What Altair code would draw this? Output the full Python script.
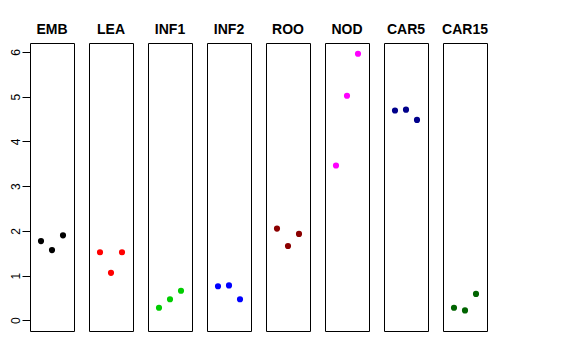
import altair as alt
import pandas as pd

groups = ["EMB", "LEA", "INF1", "INF2", "ROO", "NOD", "CAR5", "CAR15"]
colors = ["#000000", "#FF0000", "#00CD00", "#0000FF", "#8B0000", "#FF00FF", "#00008B", "#006400"]
positions = [1, 2, 3]
values = {
    "EMB": [1.77, 1.57, 1.90],
    "LEA": [1.52, 1.06, 1.52],
    "INF1": [0.28, 0.47, 0.66],
    "INF2": [0.76, 0.78, 0.47],
    "ROO": [2.05, 1.66, 1.93],
    "NOD": [3.46, 5.02, 5.96],
    "CAR5": [4.69, 4.71, 4.48],
    "CAR15": [0.28, 0.22, 0.59],
}
y_ticks = [0, 1, 2, 3, 4, 5, 6]

FONT = "Liberation Sans"
panels = []
for i, (g, c) in enumerate(zip(groups, colors)):
    df = pd.DataFrame({"x": positions, "y": values[g]})
    if i == 0:
        yaxis = alt.Axis(values=y_ticks, title=None, grid=False, domain=False,
                         tickSize=8, tickColor="#000000", labelAngle=270,
                         labelAlign="center", labelBaseline="bottom",
                         labelPadding=0, labelFontSize=12, labelFont=FONT,
                         labelColor="#000000")
    else:
        yaxis = None
    ch = alt.Chart(df).mark_circle(size=38, opacity=1, color=c).encode(
        x=alt.X("x:Q", scale=alt.Scale(domain=[0, 4], nice=False), axis=None),
        y=alt.Y("y:Q", scale=alt.Scale(domain=[-0.24, 6.2], nice=False, zero=False),
                axis=yaxis),
    ).properties(
        width=44, height=288,
        title=alt.TitleParams(g, fontSize=14, fontWeight="bold", font=FONT,
                              color="#000000", baseline="bottom", offset=5,
                              dy=13, anchor="middle"),
    )
    panels.append(ch)

chart = alt.hconcat(*panels, spacing=15, bounds="flush").properties(
    padding={"top": 14, "left": 0, "right": 0, "bottom": 0}
).configure(background="white").configure_view(stroke="#000000", strokeWidth=1)

chart.save("out.html", embed_options={"renderer": "svg", "actions": False})
